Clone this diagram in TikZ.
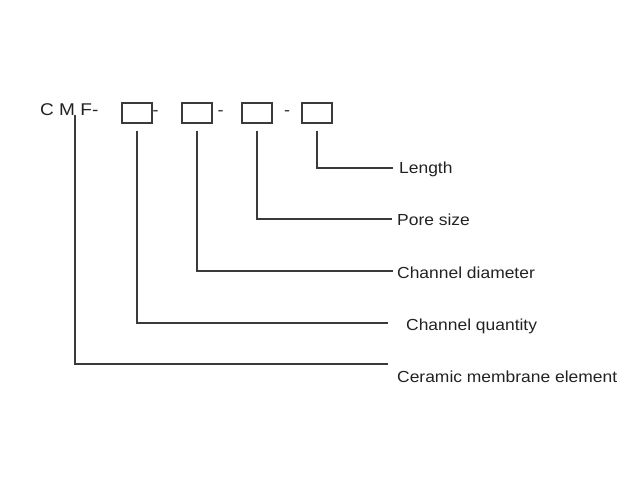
\documentclass[tikz,border=0pt]{standalone}
\usepackage{fontspec}
\setmainfont{Liberation Sans}
\newfontfamily\lblfont[FakeStretch=1.09]{Liberation Sans}
\newfontfamily\hdrfont[FakeStretch=1.12]{Liberation Sans}
\begin{document}
\begin{tikzpicture}[x=1bp,y=-1bp,
  codebox/.style={draw=linec,line width=1.3bp,minimum width=30bp,minimum height=20bp,inner sep=0pt},
  lbl/.style={anchor=base west,inner sep=0pt,font=\lblfont\fontsize{16bp}{18bp}\selectfont,text=txtc},
  conn/.style={draw=linec,line width=1.4bp},
  dashtxt/.style={anchor=base,inner sep=0pt,font=\hdrfont\fontsize{16bp}{18bp}\selectfont,text=txtc}]
\definecolor{linec}{HTML}{3A3A3A}
\definecolor{txtc}{HTML}{222222}
\useasboundingbox (0,0) rectangle (640,480);
% header
\node[anchor=base west,inner sep=0pt,font=\hdrfont\fontsize{17bp}{20bp}\selectfont,text=txtc] (cmf) at (40,116) {C M F-};
\coordinate (cmfs) at (75,115);
\node[codebox] (b1) at (137,113) {};
\node[codebox] (b2) at (197,113) {};
\node[codebox] (b3) at (257,113) {};
\node[codebox] (b4) at (317,113) {};
\node[dashtxt] (d1) at (155.5,116) {-};
\node[dashtxt] (d2) at (220.5,116) {-};
\node[dashtxt] (d3) at (287,116) {-};
% labels
\node[lbl] (len) at (399,174) {Length};
\node[lbl] (pore) at (397,225.5) {Pore size};
\node[lbl] (diam) at (397,278) {Channel diameter};
\node[lbl] (qty) at (406,330) {Channel quantity};
\node[lbl] (cer) at (397,382) {Ceramic membrane element};
% line ends
\coordinate (e4) at (393,168);
\coordinate (e3) at (392,219);
\coordinate (e2) at (393,271);
\coordinate (e1) at (388,323);
\coordinate (e0) at (388,364);
% connectors
\draw[conn] (cmfs) |- (e0);
\draw[conn] ([yshift=-7bp]b1.south) |- (e1);
\draw[conn] ([yshift=-7bp]b2.south) |- (e2);
\draw[conn] ([yshift=-7bp]b3.south) |- (e3);
\draw[conn] ([yshift=-7bp]b4.south) |- (e4);
\end{tikzpicture}
\end{document}
